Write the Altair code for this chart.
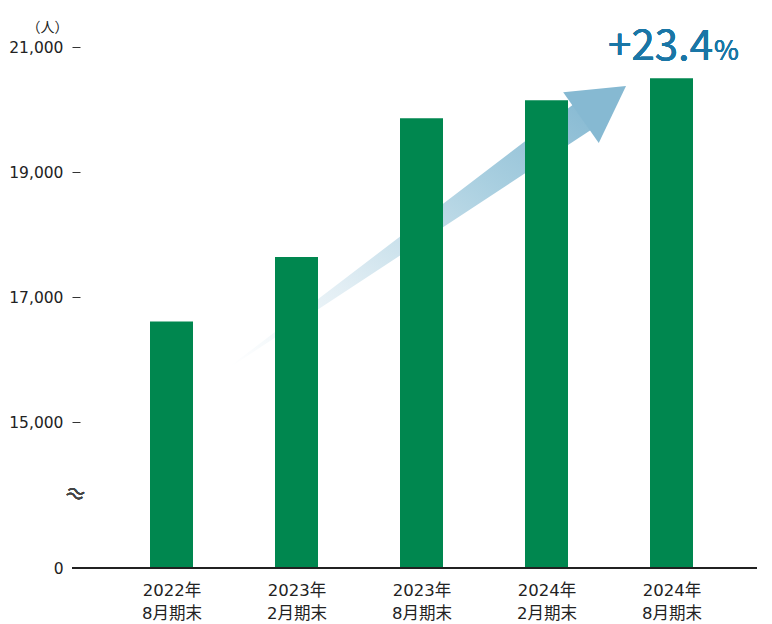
import altair as alt
import pandas as pd

# ---- data ----
period_year = ["2022年", "2023年", "2023年", "2024年", "2024年"]
period_month = ["8月期末", "2月期末", "8月期末", "2月期末", "8月期末"]
members = [16610, 17640, 19860, 20150, 20500]
y_tick_values = [0, 15000, 17000, 19000, 21000]
growth_text = "+23.4"
growth_unit = "%"

# broken axis: values >= 15,000 drawn to scale, 0..15,000 squeezed into a gap
BREAK_AT = 15000
GAP = 2336
TOP = 8768

def to_axis(v):
    return v if v <= 0 else v - BREAK_AT + GAP

# arrow annotation (in data units: bar index, value)
arrow_idx = [0.48, 3.28]
arrow_val = [15900, 19870]
arrow_width = [0, 31]
head_idx = [3.456]
head_val = [20124]

bars = pd.DataFrame({
    "idx": list(range(len(members))),
    "members": members,
    "pos": [to_axis(v) for v in members],
})
arrow = pd.DataFrame({
    "idx": arrow_idx,
    "pos": [to_axis(v) for v in arrow_val],
    "w": arrow_width,
})
head = pd.DataFrame({"idx": head_idx, "pos": [to_axis(v) for v in head_val]})

FONT = "Noto Sans CJK JP"
LABEL_FONT = "DejaVu Sans, Noto Sans CJK JP"
TXT = "#222222"

x_label_expr = " : ".join(
    f"datum.value == {i} ? ['{a}', '{b}']" for i, (a, b) in enumerate(zip(period_year, period_month))
) + " : ''"
y_label_expr = f"datum.value == 0 ? '0' : format(datum.value + {BREAK_AT - GAP}, ',')"

x_scale = alt.Scale(domain=[-0.732, 4.684], nice=False, zero=False, padding=0)
y_scale = alt.Scale(domain=[0, TOP], nice=False, zero=False, padding=0)

x_axis = alt.Axis(
    values=list(range(len(members))), labelExpr=x_label_expr, title=None,
    domain=False, ticks=False, grid=False, labelFont=LABEL_FONT, labelFontSize=16.5,
    labelColor=TXT, labelPadding=14, labelLineHeight=23, labelAngle=0,
)
y_axis = alt.Axis(
    values=[to_axis(v) for v in y_tick_values], labelExpr=y_label_expr,
    title="（人）", titleAngle=0, titleX=-33, titleY=7, titleAlign="center",
    titleBaseline="middle", titleFont=FONT, titleFontSize=14, titleFontWeight="normal",
    titleColor=TXT, domain=False, grid=False, tickSize=8, tickColor="#333333",
    tickWidth=1, labelFont=LABEL_FONT, labelFontSize=15.5, labelColor=TXT, labelPadding=9,
)

def xy(data_x, data_y):
    return dict(
        x=alt.X(f"{data_x}:Q", scale=x_scale, axis=x_axis),
        y=alt.Y(f"{data_y}:Q", scale=y_scale, axis=y_axis),
    )

grad = alt.Gradient(
    gradient="linear",
    stops=[
        alt.GradientStop(color="#ffffff", offset=0),
        alt.GradientStop(color="#e2eef4", offset=0.3),
        alt.GradientStop(color="#a9cfe0", offset=0.7),
        alt.GradientStop(color="#86b9d2", offset=1),
    ],
    x1=0, y1=1, x2=1, y2=0,
)

trail = alt.Chart(arrow).mark_trail(color=grad, opacity=1).encode(
    **xy("idx", "pos"),
    size=alt.Size("w:Q", scale=None, legend=None),
)

arrow_head = alt.Chart(head).mark_point(
    shape="M 0 -0.887 L 1 0.887 L -1 0.887 Z", filled=True, size=3844, angle=55,
    color="#86b9d2", opacity=1, strokeWidth=0,
).encode(**xy("idx", "pos"))

bar = alt.Chart(bars).mark_bar(color="#00874f", size=43).encode(
    **xy("idx", "pos"),
    tooltip=["members:Q"],
)

baseline = alt.Chart(bars).mark_rule(color="#222222", strokeWidth=1.3).encode(
    x=alt.value(-8), x2=alt.value(677), y=alt.value(548),
)

break_mark = alt.Chart(bars).mark_text(
    text="≈", font=FONT, fontSize=22, color="#444444", angle=20, align="center", baseline="middle",
).encode(x=alt.value(-5), y=alt.value(475))

growth = alt.Chart(bars).mark_text(
    text=growth_text, font=FONT, fontSize=42, fontWeight="normal", color="#1a76a6",
    align="right", baseline="alphabetic",
).encode(x=alt.value(633), y=alt.value(40))

growth_pct = alt.Chart(bars).mark_text(
    text=growth_unit, font=FONT, fontSize=27, fontWeight="normal", color="#1a76a6",
    align="left", baseline="alphabetic",
).encode(x=alt.value(634), y=alt.value(40))

chart = alt.layer(trail, arrow_head, bar, baseline, break_mark, growth, growth_pct).properties(
    width=677, height=548,
    autosize=alt.AutoSizeParams(type="none"),
    padding={"left": 72, "top": 12, "right": 7, "bottom": 55},
).configure(font=FONT, view=alt.ViewConfig(stroke=None))

chart.save("out.html", embed_options={"renderer": "svg", "actions": False})
